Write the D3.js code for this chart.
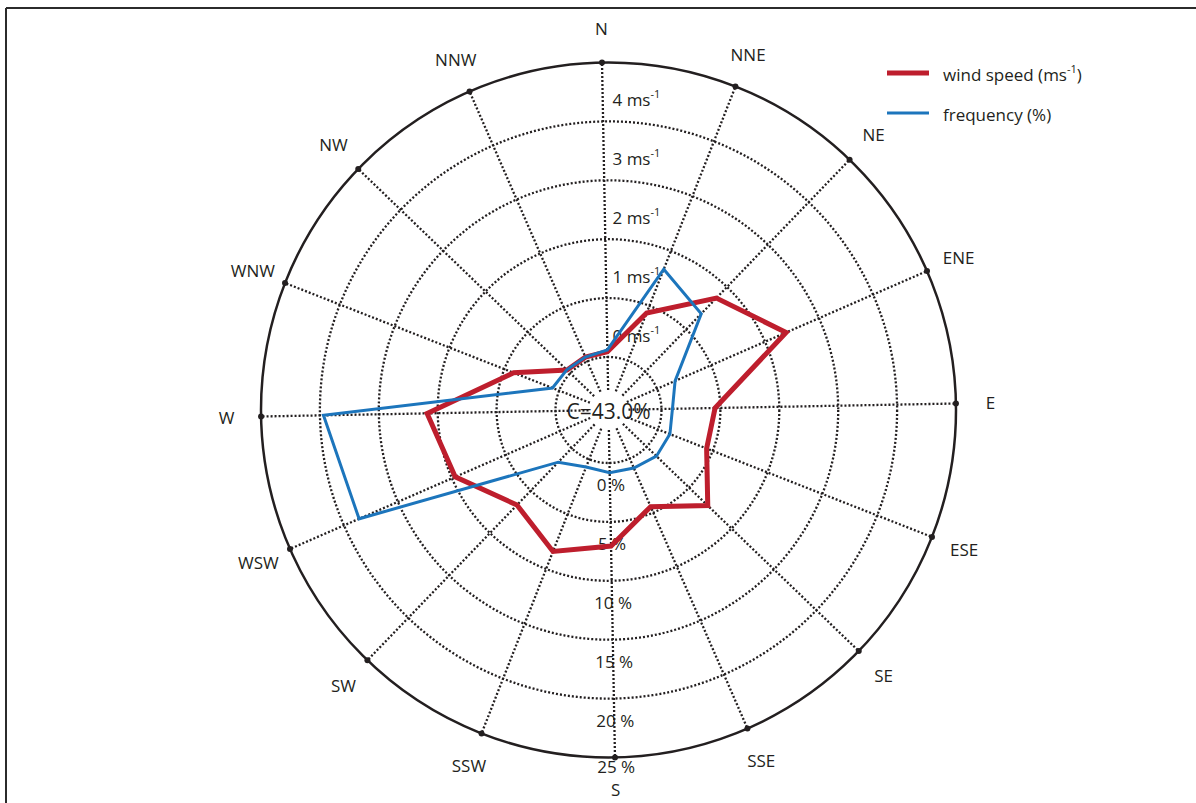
<!DOCTYPE html>
<html>
<head>
<meta charset="utf-8">
<script src="https://cdn.jsdelivr.net/npm/d3@7"></script>
<style>
  html, body { margin: 0; padding: 0; background: #fff; }
  svg { display: block; }
  text { font-family: "Open Sans", "Noto Sans", sans-serif; fill: #231f20; }
</style>
</head>
<body>
<svg id="chart" width="1196" height="803"></svg>
<script>
// Sixteen compass sectors, clockwise from north
const directions = ["N", "NNE", "NE", "ENE", "E", "ESE", "SE", "SSE",
                    "S", "SSW", "SW", "WSW", "W", "WNW", "NW", "NNW"];

// Mean wind speed per sector (m/s)
const windSpeed = [0.09, 0.87, 1.74, 2.39, 0.91, 0.89, 1.44, 0.89,
                   1.41, 1.68, 1.34, 1.94, 2.18, 0.83, 0.08, 0.08];

// Occurrence frequency per sector (%)
const frequency = [0.60, 8.34, 6.85, 1.67, 0.93, 1.10, 1.15, 0.88,
                   0.82, 0.70, 1.65, 18.6, 19.7, 0.61, 0.42, 0.40];

// Ring labels
const freqTicks = [0, 5, 10, 15, 20, 25];
const speedTicks = [0, 1, 2, 3, 4];
const calmLabel = "C=43.0%";

const svg = d3.select("#chart");
const cx = 608.5, cy = 410;
const r0 = 53, R = 347.5;
const tilt = -1.07 * Math.PI / 180;   // slight counter-clockwise tilt of the whole rose

const rFreq = d3.scaleLinear().domain([0, 25]).range([r0, R]);
const rSpeed = d3.scaleLinear().domain([0, 5]).range([r0, R]);
const angle = d3.scalePoint().domain(directions).range([0, 2 * Math.PI * 15 / 16]);
const ang = d => angle(d) + tilt;

const ink = "#231f20";
const red = "#be1e2d";
const blue = "#1c75bc";
const dots = "2,2";

// Frame lines along the top and left edge
svg.append("line").attr("x1", 6).attr("y1", 8).attr("x2", 1196).attr("y2", 8)
  .attr("stroke", "#2b2b2b").attr("stroke-width", 2);
svg.append("line").attr("x1", 6).attr("y1", 8).attr("x2", 6).attr("y2", 803)
  .attr("stroke", "#2b2b2b").attr("stroke-width", 2);

const g = svg.append("g").attr("transform", `translate(${cx},${cy})`);

// Dotted rings
g.selectAll("circle.ring").data(freqTicks.slice(0, -1)).join("circle")
  .attr("class", "ring")
  .attr("r", d => rFreq(d))
  .attr("fill", "none").attr("stroke", ink)
  .attr("stroke-width", 2.3).attr("stroke-dasharray", dots);

// Dotted spokes
const pt = (a, r) => [r * Math.sin(a), -r * Math.cos(a)];
g.selectAll("line.spoke").data(directions).join("line")
  .attr("class", "spoke")
  .attr("x1", d => pt(ang(d), 20)[0]).attr("y1", d => pt(ang(d), 20)[1])
  .attr("x2", d => pt(ang(d), R)[0]).attr("y2", d => pt(ang(d), R)[1])
  .attr("stroke", ink).attr("stroke-width", 2.3).attr("stroke-dasharray", dots);

// Outer circle
g.append("circle").attr("r", rFreq(25)).attr("fill", "none")
  .attr("stroke", ink).attr("stroke-width", 2.5);

// Spoke end dots
g.selectAll("circle.tip").data(directions).join("circle")
  .attr("class", "tip")
  .attr("cx", d => pt(ang(d), R)[0]).attr("cy", d => pt(ang(d), R)[1])
  .attr("r", 3).attr("fill", ink);

// Direction labels
g.selectAll("text.dir").data(directions).join("text")
  .attr("class", "dir")
  .attr("x", d => pt(ang(d), 382)[0]).attr("y", d => pt(ang(d), d === "S" ? 380 : 382)[1])
  .attr("text-anchor", "middle").attr("dominant-baseline", "central")
  .attr("font-size", 17).text(d => d);

// Frequency ring labels along the south spoke
const freqOffset = d => (d === 25 ? 9 : 22);
g.selectAll("text.freq").data(freqTicks).join("text")
  .attr("class", "freq")
  .attr("x", d => pt(angle("S") + tilt, rFreq(d) + freqOffset(d))[0] + 1)
  .attr("y", d => pt(angle("S") + tilt, rFreq(d) + freqOffset(d))[1])
  .attr("text-anchor", "middle").attr("dominant-baseline", "central")
  .attr("font-size", 17).text(d => d + " %");

// Speed ring labels beside the north spoke
const sl = g.selectAll("text.spd").data(speedTicks).join("text")
  .attr("class", "spd")
  .attr("x", 4)
  .attr("y", d => -(rSpeed(d) + 22))
  .attr("dominant-baseline", "central")
  .attr("font-size", 17);
sl.append("tspan").text(d => d + " ms");
sl.append("tspan").attr("font-size", 11).attr("dy", -6).text("-1");

// Calm percentage
g.append("text").attr("x", 0).attr("y", 1)
  .attr("text-anchor", "middle").attr("dominant-baseline", "central")
  .attr("font-size", 21).text(calmLabel);

// Data polygons
const lineGen = d3.lineRadial().curve(d3.curveLinearClosed);
g.append("path")
  .attr("d", lineGen(directions.map((d, i) => [ang(d), rSpeed(windSpeed[i])])))
  .attr("fill", "none").attr("stroke", red).attr("stroke-width", 5)
  .attr("stroke-linejoin", "miter");
g.append("path")
  .attr("d", lineGen(directions.map((d, i) => [ang(d), rFreq(frequency[i])])))
  .attr("fill", "none").attr("stroke", blue).attr("stroke-width", 3)
  .attr("stroke-linejoin", "miter");

// Legend
const legend = svg.append("g");
const items = [
  { label: "wind speed (ms", sup: "-1", tail: ")", color: red, w: 5, y: 73 },
  { label: "frequency (%)", sup: null, tail: "", color: blue, w: 3, y: 113 }
];
items.forEach(it => {
  legend.append("line").attr("x1", 887).attr("x2", 929).attr("y1", it.y).attr("y2", it.y)
    .attr("stroke", it.color).attr("stroke-width", it.w);
  const t = legend.append("text").attr("x", 943).attr("y", it.y + 1)
    .attr("dominant-baseline", "central").attr("font-size", 17);
  t.append("tspan").text(it.label);
  if (it.sup) {
    t.append("tspan").attr("font-size", 11).attr("dy", -6).text(it.sup);
    t.append("tspan").attr("dy", 6).text(it.tail);
  }
});
</script>
</body>
</html>
